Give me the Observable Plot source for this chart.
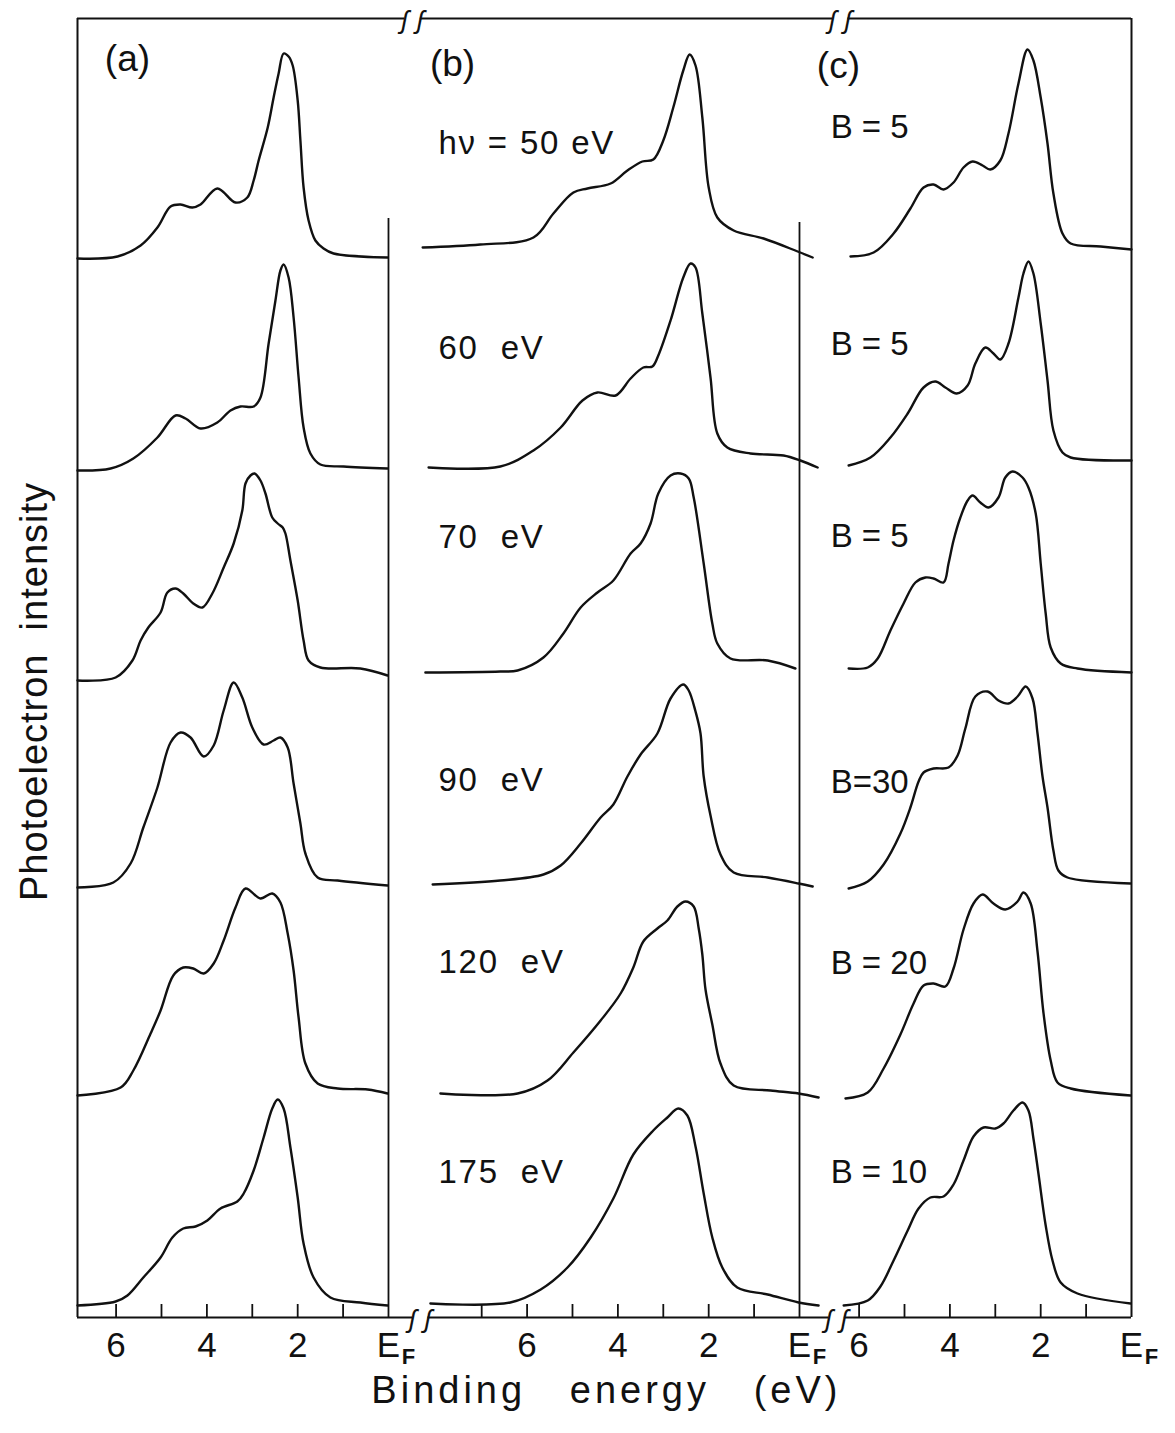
<!DOCTYPE html>
<html><head><meta charset="utf-8">
<script src="https://cdn.jsdelivr.net/npm/d3@7"></script>
<script src="https://cdn.jsdelivr.net/npm/@observablehq/plot@0.6"></script>
<style>body{margin:0;background:#fff} svg{display:block;background:#fff}</style>
</head><body><div id="chart"></div>
<script>
// ---- data: binding energy (eV) vs. intensity (arb. units) ----
const spectraA = [
  [[6.85,0],[5.97,2],[5.46,13],[5.09,31],[4.80,52],[4.58,54],[4.32,51],[4.14,54],[3.77,70],[3.37,56],[3.11,61],[2.97,78],[2.86,98],[2.66,131],[2.53,161],[2.42,185],[2.31,205],[2.20,202],[2.11,193],[2.00,158],[1.94,118],[1.87,71],[1.76,38],[1.61,18],[1.43,10],[1.21,5],[0.02,1]],
  [[6.85,0],[6.12,2],[5.62,12],[5.09,33],[4.69,55],[4.47,52],[4.14,42],[3.77,48],[3.48,60],[3.26,64],[2.97,64],[2.82,73],[2.64,127],[2.49,170],[2.38,200],[2.31,206],[2.20,193],[2.09,153],[1.98,93],[1.87,43],[1.72,17],[1.50,6],[0.99,4],[0.02,2]],
  [[6.85,0],[6.01,3],[5.64,20],[5.46,40],[5.29,53],[5.02,68],[4.87,88],[4.69,92],[4.52,87],[4.30,77],[4.10,73],[3.88,87],[3.63,113],[3.41,137],[3.22,170],[3.15,197],[3.04,205],[2.95,207],[2.82,200],[2.71,187],[2.56,163],[2.44,157],[2.33,153],[2.27,147],[2.16,120],[2.00,80],[1.87,40],[1.76,20],[1.50,13],[0.62,12],[0.02,5]],
  [[6.85,0],[6.06,5],[5.68,24],[5.40,60],[5.09,100],[4.80,145],[4.58,155],[4.36,150],[4.07,131],[3.85,142],[3.63,177],[3.41,205],[3.22,190],[3.00,160],[2.75,143],[2.53,147],[2.38,150],[2.22,140],[2.09,104],[1.94,64],[1.83,34],[1.56,10],[1.12,7],[0.02,2]],
  [[6.85,0],[5.90,8],[5.62,25],[5.24,62],[5.02,85],[4.74,120],[4.52,128],[4.30,127],[4.07,122],[3.85,132],[3.63,155],[3.37,188],[3.15,207],[2.82,197],[2.56,202],[2.38,193],[2.22,162],[2.09,125],[1.98,78],[1.83,32],[1.56,12],[1.12,7],[0.46,6],[0.02,2]],
  [[6.85,0],[6.01,4],[5.75,10],[5.40,28],[5.02,48],[4.76,68],[4.52,77],[4.25,79],[3.99,85],[3.70,97],[3.33,104],[3.19,112],[2.97,135],[2.75,168],[2.56,197],[2.44,206],[2.31,197],[2.16,158],[2.00,108],[1.87,62],[1.65,28],[1.28,8],[0.62,3],[0.02,0]]
];
const spectraB = [
  [[8.30,0],[7.03,3],[5.86,10],[5.42,34],[4.98,55],[4.67,59],[4.16,64],[3.79,77],[3.46,86],[3.22,88],[3.00,107],[2.78,140],[2.56,177],[2.42,193],[2.29,182],[2.14,130],[2.00,60],[1.81,30],[1.45,17],[0.79,9],[0.04,-4],[-0.29,-10]],
  [[8.17,0],[6.59,1],[5.86,17],[5.26,40],[4.78,67],[4.45,75],[4.05,72],[3.72,89],[3.44,100],[3.24,101],[3.11,112],[2.84,147],[2.56,190],[2.40,204],[2.29,200],[2.14,154],[1.96,90],[1.81,34],[1.59,20],[1.08,14],[0.35,12],[-0.02,7],[-0.40,0]],
  [[8.24,0],[6.59,1],[6.21,2],[5.64,15],[5.20,39],[4.82,65],[4.45,80],[4.10,92],[3.72,119],[3.50,129],[3.28,149],[3.11,179],[2.84,197],[2.62,199],[2.44,194],[2.33,175],[2.11,109],[1.92,49],[1.81,29],[1.52,14],[0.70,12],[0.09,4]],
  [[8.08,0],[6.59,4],[5.64,10],[5.26,19],[4.82,41],[4.38,67],[4.10,80],[3.79,108],[3.50,130],[3.13,151],[2.84,186],[2.56,200],[2.44,194],[2.29,173],[2.18,151],[2.11,108],[1.96,69],[1.74,30],[1.45,12],[0.70,7],[0.02,1],[-0.29,-2]],
  [[7.91,0],[6.21,0],[5.55,13],[4.98,41],[4.38,73],[3.94,100],[3.66,126],[3.44,152],[3.13,165],[2.91,173],[2.69,187],[2.51,192],[2.33,187],[2.22,165],[2.14,139],[2.07,104],[1.92,69],[1.74,30],[1.45,8],[0.64,3],[0.02,0],[-0.42,-4]],
  [[8.13,0],[6.37,1],[5.70,14],[5.11,36],[4.60,66],[4.10,105],[3.66,149],[3.22,173],[2.91,186],[2.67,195],[2.47,188],[2.29,157],[2.11,110],[1.92,66],[1.70,36],[1.37,16],[0.70,9],[0.02,1],[-0.42,-2]]
];
const spectraC = [
  [[6.19,0],[5.68,4],[5.24,23],[4.87,48],[4.58,69],[4.36,72],[4.14,67],[3.92,74],[3.70,89],[3.50,95],[3.28,91],[3.11,87],[2.89,96],[2.71,123],[2.49,173],[2.29,207],[2.16,196],[2.00,159],[1.85,113],[1.72,63],[1.52,23],[1.34,13],[0.68,10],[0,7]],
  [[6.23,0],[5.75,8],[5.31,28],[4.93,52],[4.58,78],[4.32,84],[4.10,78],[3.85,72],[3.61,80],[3.44,102],[3.22,118],[3.04,112],[2.89,106],[2.71,122],[2.49,168],[2.38,192],[2.27,204],[2.16,192],[2.00,142],[1.85,85],[1.72,35],[1.52,13],[1.34,8],[0,5]],
  [[6.23,0],[5.81,1],[5.59,10],[5.31,38],[5.02,65],[4.76,86],[4.54,91],[4.36,90],[4.14,86],[4.03,105],[3.92,128],[3.77,151],[3.61,168],[3.50,173],[3.33,166],[3.15,161],[2.93,171],[2.78,191],[2.62,197],[2.40,191],[2.27,181],[2.11,155],[2.00,105],[1.89,55],[1.78,21],[1.56,5],[1.19,0],[0,-4]],
  [[6.23,0],[5.81,7],[5.46,24],[5.09,55],[4.87,81],[4.69,107],[4.58,116],[4.36,120],[4.03,121],[3.83,133],[3.66,160],[3.44,192],[3.17,197],[2.93,188],[2.71,185],[2.51,192],[2.33,202],[2.18,190],[2.07,155],[1.96,112],[1.85,81],[1.72,38],[1.61,18],[1.41,11],[0.02,5]],
  [[6.30,0],[5.81,6],[5.46,30],[5.09,64],[4.80,95],[4.58,113],[4.36,115],[4.10,112],[3.92,130],[3.70,169],[3.48,195],[3.28,204],[3.04,195],[2.78,189],[2.51,197],[2.38,206],[2.22,195],[2.07,147],[1.94,86],[1.78,38],[1.63,16],[1.34,10],[0.02,3]],
  [[6.34,0],[5.81,5],[5.53,19],[5.24,45],[4.93,75],[4.69,97],[4.43,108],[4.14,109],[3.92,121],[3.70,145],[3.48,169],[3.26,178],[3.00,177],[2.82,182],[2.60,195],[2.40,203],[2.27,195],[2.16,167],[2.05,132],[1.89,80],[1.74,45],[1.56,23],[1.19,12],[0.02,2]]
];
// vertical stacking offsets of each spectrum (arb. units)
const offsetsA = [1059, 847, 637, 430, 222, 12];
const offsetsB = [1070, 850, 645, 433, 224, 14];
const offsetsC = [1061, 852, 649, 429, 219, 12];
// labels
const labelsB = ["h\u03bd = 50 eV", "60\u00a0 eV", "70\u00a0 eV", "90\u00a0 eV", "120\u00a0 eV", "175\u00a0 eV"];
const labelsC = ["B = 5", "B = 5", "B = 5", "B=30", "B = 20", "B = 10"];
const panelNames = ["(a)", "(b)", "(c)"];
const ticksA = [6,5,4,3,2,1];
const ticksB = [7,6,5,4,3,2,1];
const ticksC = [6,5,4,3,2,1];
const tickLabels = [6, 4, 2, 0];
const xTitle = "Binding\u00a0\u00a0\u00a0energy\u00a0\u00a0\u00a0(eV)";
const yTitle = "Photoelectron\u00a0 intensity";

// ---- layout of the broken energy axis ----
const efU = {a: 6.85, b: 15.903, c: 23.216}; // axis position of E_F in each panel
const uMax = 23.216, vMax = 1299;
const breaksTop = [7.38, 16.8];
const breaksBottom = [7.55, 16.72];

const rows = [];
[["a", spectraA, offsetsA], ["b", spectraB, offsetsB], ["c", spectraC, offsetsC]].forEach(([p, sp, off]) => {
  sp.forEach((s, k) => s.forEach(([e, i]) => rows.push({id: p + k, u: efU[p] - e, v: off[k] + i})));
});
const ticks = [
  ...ticksA.map(e => ({u: efU.a - e})),
  ...ticksB.map(e => ({u: efU.b - e})),
  ...ticksC.map(e => ({u: efU.c - e}))
];
const tl = [];
["a","b","c"].forEach(p => tickLabels.forEach(e => tl.push({u: efU[p] - e, t: e === 0 ? "E" : String(e), ef: e === 0})));

const font = "Liberation Sans, Arial, sans-serif";
const gap = 0.17;
function segs(br) {
  const pts = [0, ...br.flatMap(b => [b - gap, b + gap]), uMax];
  const out = [];
  for (let i = 0; i < pts.length; i += 2) out.push({x1: pts[i], x2: pts[i+1]});
  return out;
}

const plot = Plot.plot({
  width: 1175, height: 1433,
  marginLeft: 77, marginRight: 44, marginTop: 18, marginBottom: 116,
  x: {domain: [0, uMax], axis: null},
  y: {domain: [0, vMax], axis: null},
  style: {fontFamily: font, background: "#fff"},
  marks: [
    // frame
    Plot.ruleY(segs(breaksTop), {x1: "x1", x2: "x2", y: vMax, stroke: "#111", strokeWidth: 2}),
    Plot.ruleY(segs(breaksBottom), {x1: "x1", x2: "x2", y: 0, stroke: "#111", strokeWidth: 2}),
    Plot.ruleX([0, uMax], {x: d => d, y1: 0, y2: vMax, stroke: "#111", strokeWidth: 2}),
    Plot.ruleX([{u: efU.a, top: 1099}, {u: efU.b, top: 1095}], {x: "u", y1: 0, y2: "top", stroke: "#111", strokeWidth: 1.8}),
    // break marks
    Plot.text(breaksTop.flatMap(b => [b - gap, b + gap]), {x: d => d, y: vMax, text: () => "\u0283", fontSize: 26, fontStyle: "italic", fill: "#111", dy: 2}),
    Plot.text(breaksBottom.flatMap(b => [b - gap, b + gap]), {x: d => d, y: 0, text: () => "\u0283", fontSize: 26, fontStyle: "italic", fill: "#111", dy: 2}),
    // ticks
    Plot.ruleX(ticks, {x: "u", y1: 0, y2: 13, stroke: "#111", strokeWidth: 1.8}),
    // tick labels
    Plot.text(tl, {x: "u", y: 0, text: "t", dy: 28, fontSize: 35, fill: "#111"}),
    Plot.text(tl.filter(d => d.ef), {x: "u", y: 0, text: () => "F", dx: 20, dy: 39, fontSize: 22, fontWeight: "bold", fill: "#111"}),
    // axis titles
    Plot.text([xTitle], {x: 11.65, y: 0, dy: 73, text: d => d, fontSize: 38, fill: "#111"}),
    Plot.text([yTitle], {x: -0.93, y: 626, text: d => d, rotate: -90, fontSize: 38, fill: "#111"}),
    // spectra
    Plot.line(rows, {x: "u", y: "v", z: "id", curve: "catmull-rom", stroke: "#111", strokeWidth: 2.4}),
    // panel names
    Plot.text(panelNames, {x: (d, i) => [1.10, 8.26, 16.76][i], y: (d, i) => [1258, 1253, 1251][i], text: d => d, fontSize: 37, fill: "#111"}),
    // spectrum labels
    Plot.text(labelsB, {x: 7.95, y: (d, i) => offsetsB[i] + [104, 119, 135, 104, 131, 131][i], text: d => d, textAnchor: "start", fontSize: 33, fill: "#111"}),
    Plot.text(labelsC, {x: 16.59, y: (d, i) => offsetsC[i] + [129, 121, 132, 106, 135, 133][i], text: d => d, textAnchor: "start", fontSize: 33, fill: "#111"})
  ]
});
// lettering spacing (hand-lettered originals are widely spaced)
d3.select(plot).selectAll("text").each(function() {
  const t = this.textContent;
  if (t === xTitle) this.setAttribute("letter-spacing", "4");
  else if (t === yTitle) this.setAttribute("letter-spacing", "1");
  else if (labelsB.includes(t)) this.setAttribute("letter-spacing", "1.8");
});
document.getElementById("chart").appendChild(plot);
</script>
</body></html>
